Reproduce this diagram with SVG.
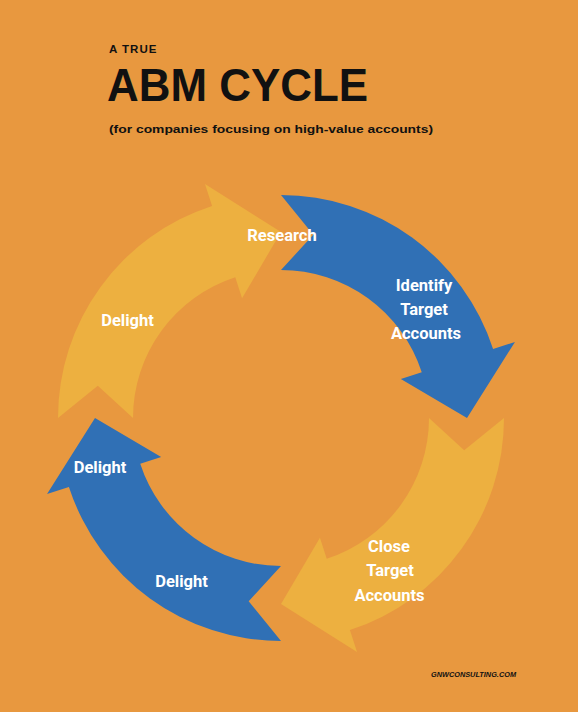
<svg xmlns="http://www.w3.org/2000/svg" width="578" height="712" viewBox="0 0 578 712">
  <style>
    .blue { fill: #3070B5; }
    .yellow { fill: #EDB040; }
    .lbl { font-family: Roboto, "Liberation Sans", sans-serif; font-weight: bold; font-size: 16.5px; fill: #FFFFFF; text-anchor: middle; }
    .hdr { font-family: "Liberation Sans", Arial, sans-serif; font-weight: bold; fill: #111111; }
  </style>
  <defs>
    <path id="arrow" d="M281,195 A223,223 0 0 1 493.09,349.09 L514.96,341.98 L467,418 L400.83,379.06 L421.76,372.27 A148,148 0 0 0 281,270 L313.3,234.8 Z"/>
  </defs>
  <rect x="0" y="0" width="578" height="712" fill="#E8983F"/>

  <g id="title">
    <text class="hdr" x="109" y="53" font-size="11.5" letter-spacing="1">A TRUE</text>
    <text class="hdr" x="107" y="101" font-size="46" textLength="261" lengthAdjust="spacingAndGlyphs">ABM CYCLE</text>
    <text class="hdr" x="109" y="133" font-size="11.5" textLength="324" lengthAdjust="spacingAndGlyphs">(for companies focusing on high-value accounts)</text>
  </g>

  <g id="connectors">
    <use id="arrow-identify" href="#arrow" class="blue"/>
    <use id="arrow-close" href="#arrow" class="yellow" transform="rotate(90 281 418)"/>
    <use id="arrow-delight-bottom" href="#arrow" class="blue" transform="rotate(180 281 418)"/>
    <use id="arrow-delight-top" href="#arrow" class="yellow" transform="rotate(270 281 418)"/>
  </g>

  <g id="node-research">
    <text class="lbl" x="282" y="241">Research</text>
  </g>
  <g id="node-identify">
    <text class="lbl" x="424" y="291">Identify</text>
    <text class="lbl" x="424" y="315">Target</text>
    <text class="lbl" x="426" y="339">Accounts</text>
  </g>
  <g id="node-close">
    <text class="lbl" x="389" y="552">Close</text>
    <text class="lbl" x="390" y="576">Target</text>
    <text class="lbl" x="389.5" y="601">Accounts</text>
  </g>
  <g id="node-delight-bottom">
    <text class="lbl" x="181.5" y="587">Delight</text>
  </g>
  <g id="node-delight-left">
    <text class="lbl" x="100" y="473">Delight</text>
  </g>
  <g id="node-delight-top">
    <text class="lbl" x="127.5" y="326">Delight</text>
  </g>

  <g id="footer">
    <text class="hdr" x="431" y="677" font-size="7.5" font-style="italic" textLength="85" lengthAdjust="spacingAndGlyphs">GNWCONSULTING.COM</text>
  </g>
</svg>
